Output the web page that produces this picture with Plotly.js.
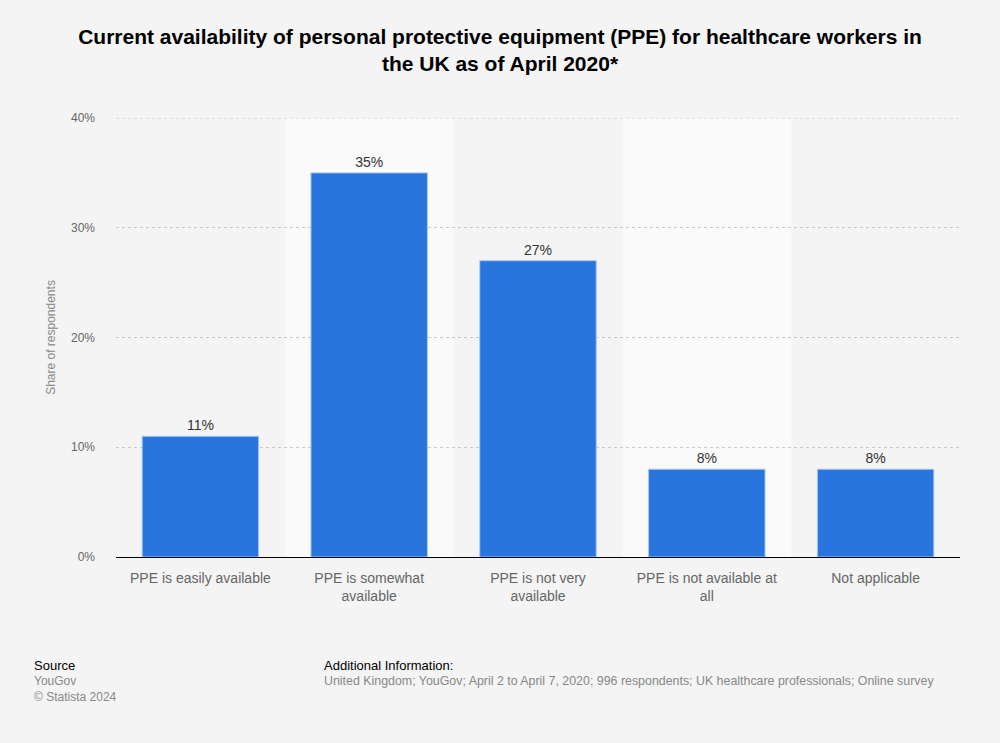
<!DOCTYPE html>
<html><head><meta charset="utf-8">
<script src="https://cdn.plot.ly/plotly-3.0.1.min.js"></script>
<style>body{margin:0;background:#f4f4f4}#c{width:1000px;height:743px}</style>
</head><body><div id="c"></div>
<script>
const categories = ["PPE is easily available", "PPE is somewhat<br>available", "PPE is not very<br>available", "PPE is not available at<br>all", "Not applicable"];
const values = [11, 35, 27, 8, 8];
const labels = values.map(v => v + "%");
const yTickVals = [0, 10, 20, 30, 40];
const yTickText = ["0%", "10%", "20%", "30%", "40%"];
const bandIdx = [1, 3];

const shapes = bandIdx.map(i => ({type:'rect', xref:'x', yref:'paper', x0:i-0.5, x1:i+0.5, y0:0, y1:1, fillcolor:'#fafafa', line:{width:0}, layer:'below'}));
shapes.push({type:'line', xref:'paper', yref:'y', x0:0, x1:1, y0:yTickVals[4], y1:yTickVals[4], line:{color:'#c8c8c8', width:1, dash:'dot'}, layer:'below'});

const data = [{
  type:'bar', x:categories, y:values, text:labels, textposition:'outside',
  textfont:{family:'Liberation Sans, Arial', size:14, color:'#333'},
  marker:{color:'#2876dd', line:{color:'#a9c8f0', width:1}},
  cliponaxis:false, hoverinfo:'none'
}];

const layout = {
  width:1000, height:743,
  paper_bgcolor:'#f4f4f4', plot_bgcolor:'#f4f4f4',
  margin:{l:116, r:40, t:118, b:186},
  title:{text:'<b>Current availability of personal protective equipment (PPE) for healthcare workers in<br>the UK as of April 2020*</b>', x:0.5, xanchor:'center', yref:'container', y:0.941, yanchor:'top', font:{family:'Liberation Sans, Arial', size:21, color:'#000'}},
  bargap:0.31,
  shapes:shapes,
  xaxis:{type:'category', showgrid:false, showline:true, linecolor:'#000', linewidth:1, ticks:'', ticklabelstandoff:8, tickfont:{family:'Liberation Sans, Arial', size:14, color:'#666'}, fixedrange:true},
  yaxis:{range:[0,40], tickvals:yTickVals, ticktext:yTickText, showgrid:true, gridcolor:'#c8c8c8', griddash:'dot', zeroline:false, ticks:'', ticklabelstandoff:20, tickfont:{family:'Liberation Sans, Arial', size:12, color:'#666'}, title:{text:'Share of respondents', standoff:12, font:{family:'Liberation Sans, Arial', size:12, color:'#888'}}, fixedrange:true},
  showlegend:false,
  annotations:[
    {xref:'paper', yref:'paper', x:-0.099, y:-0.225, xanchor:'left', yanchor:'top', text:'Source', showarrow:false, font:{family:'Liberation Sans, Arial', size:13, color:'#000'}},
    {xref:'paper', yref:'paper', x:-0.099, y:-0.262, xanchor:'left', yanchor:'top', text:'YouGov<br>© Statista 2024', align:'left', showarrow:false, font:{family:'Liberation Sans, Arial', size:12, color:'#888'}},
    {xref:'paper', yref:'paper', x:0.244, y:-0.225, xanchor:'left', yanchor:'top', text:'Additional Information:', showarrow:false, font:{family:'Liberation Sans, Arial', size:13, color:'#000'}},
    {xref:'paper', yref:'paper', x:0.244, y:-0.262, xanchor:'left', yanchor:'top', text:'United Kingdom; YouGov; April 2 to April 7, 2020; 996 respondents; UK healthcare professionals; Online survey', showarrow:false, font:{family:'Liberation Sans, Arial', size:12.4, color:'#888'}}
  ]
};
Plotly.newPlot('c', data, layout, {displayModeBar:false, staticPlot:true});
</script></body></html>
